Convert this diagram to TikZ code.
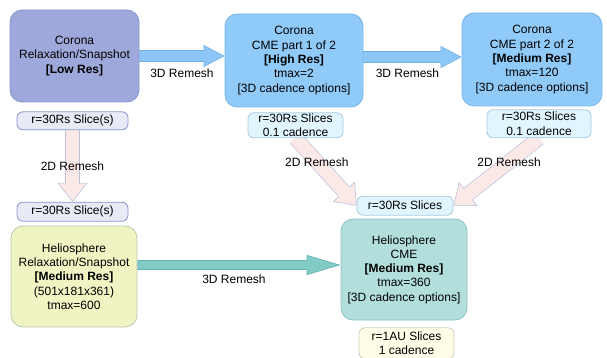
\documentclass[tikz,border=0pt]{standalone}
\usepackage{fontspec}
\setmainfont{Liberation Sans}
\usepackage{xcolor}
\usepackage{tikz}
\usetikzlibrary{arrows.meta, positioning}
\pgfdeclarelayer{bg}
\pgfsetlayers{bg,main}
\definecolor{lowfill}{HTML}{9FA8DA}
\definecolor{lowedge}{HTML}{8A96CE}
\definecolor{corfill}{HTML}{90CAF9}
\definecolor{coredge}{HTML}{78B6EA}
\definecolor{helfill}{HTML}{F0F4C3}
\definecolor{heledge}{HTML}{BCC9B4}
\definecolor{cmefill}{HTML}{B2DFDB}
\definecolor{cmeedge}{HTML}{8EC2CC}
\definecolor{slicelow}{HTML}{E8EAF6}
\definecolor{slicecor}{HTML}{E1F5FE}
\definecolor{sliceedge}{HTML}{A9CBE0}
\definecolor{sliceau}{HTML}{FFFDE7}
\definecolor{auedge}{HTML}{CDD2BC}
\definecolor{pinkfill}{HTML}{FBE9E7}
\definecolor{pinkedge}{HTML}{BCC0DE}
\definecolor{tealfill}{HTML}{80CBC4}
\definecolor{tealedge}{HTML}{69AFBA}
\definecolor{bluefill}{HTML}{8CC7F7}
\definecolor{blueedge}{HTML}{6FB2E8}
\tikzstyle{stage} = [rectangle, rounded corners=12pt, line width=0.8pt, align=center, inner sep=0pt]
\tikzstyle{slice} = [rectangle, rounded corners=6pt, line width=0.8pt, align=center, inner sep=0.5pt]
\tikzstyle{remesh3d} = [draw=blueedge, line width=12pt, -{Triangle[width=22pt, length=21pt, line width=0.6pt, fill=bluefill]}, postaction={draw=bluefill, line width=10.6pt, arrows=-, shorten >=20pt}]
\tikzstyle{remeshhelio} = [draw=tealedge, line width=10pt, -{Triangle[width=20pt, length=34pt, line width=0.6pt, fill=tealfill]}, postaction={draw=tealfill, line width=8.6pt, arrows=-, shorten >=33pt}]
\tikzstyle{remesh2d} = [draw=pinkedge, line width=15pt, -{Triangle[width=30pt, length=19pt, line width=0.6pt, fill=pinkfill]}, postaction={draw=pinkfill, line width=13.6pt, arrows=-, shorten >=18pt}]

\begin{document}
\begin{tikzpicture}[x=1pt, y=-1pt, font=\fontsize{12}{14.3}\selectfont]
		\useasboundingbox (0,0) rectangle (607,358);
		\node (Relax)[stage, fill=lowfill, draw=lowedge, minimum width=129pt, minimum height=92pt] at (74.5,56) {Corona\\Relaxation/Snapshot\\\textbf{[Low Res]}};
		\node (CME One)[stage, fill=corfill, draw=coredge, minimum width=138pt, minimum height=93pt] at (294,60.5) {Corona\\CME part 1 of 2\\\textbf{[High Res]}\\tmax=2\\{[3D cadence options]}};
		\node (CME Two)[stage, fill=corfill, draw=coredge, minimum width=140pt, minimum height=93pt] at (532,59.5) {Corona\\CME part 2 of 2\\\textbf{[Medium Res]}\\tmax=120\\{[3D cadence options]}};
		\node (Helio Relax)[stage, fill=helfill, draw=heledge, minimum width=126pt, minimum height=101pt] at (74,276.5) {Heliosphere\\Relaxation/Snapshot\\\textbf{[Medium Res]}\\(501x181x361)\\tmax=600};
		\node (Helio CME)[stage, fill=cmefill, draw=cmeedge, minimum width=126pt, minimum height=101pt] at (404,269.5) {Heliosphere\\CME\\\textbf{[Medium Res]}\\tmax=360\\{[3D cadence options]}};
		\node (Relax Slice)[slice, fill=slicelow, draw=lowedge, minimum width=111pt, minimum height=18pt, below = 9pt of Relax, xshift=-2pt]{r=30Rs Slice(s)};
		\node (Helio Slice)[slice, fill=slicelow, draw=lowedge, minimum width=111pt, minimum height=19pt, above = 4pt of Helio Relax, xshift=-1.5pt]{r=30Rs Slice(s)};
		\node (CME One Slice)[slice, fill=slicecor, draw=sliceedge, minimum width=95pt, minimum height=25pt, below = 5pt of CME One, xshift=1.5pt]{r=30Rs Slices\\0.1 cadence};
		\node (CME Two Slice)[slice, fill=slicecor, draw=sliceedge, minimum width=104pt, minimum height=28pt, below = 3pt of CME Two, xshift=7pt]{r=30Rs Slices\\0.1 cadence};
		\node (CME In Slice)[slice, fill=slicecor, draw=sliceedge, minimum width=96pt, minimum height=19pt, above = 3pt of Helio CME, xshift=1pt]{r=30Rs Slices};
		\node (CME Out Slice)[slice, fill=sliceau, draw=auedge, minimum width=95pt, minimum height=31pt, below = 7pt of Helio CME, xshift=2.5pt]{r=1AU Slices\\1 cadence};
		\coordinate (CME One Out) at ([yshift=3.5pt]CME One.east);
		\coordinate (Helio Out) at ([yshift=11.5pt]Helio Relax.east);
		\begin{pgfonlayer}{bg}
			\draw [remesh3d] (Relax.east) -- (Relax.east -| CME One.west) node[midway, yshift=-17pt]{3D Remesh};
			\draw [remesh3d] (CME One Out) -- (CME One Out -| CME Two.west) node[midway, xshift=-5pt, yshift=-16pt]{3D Remesh};
			\draw [remeshhelio] (Helio Out) -- (Helio Out -| Helio CME.west) node[midway, xshift=-5pt, yshift=-14pt]{3D Remesh};
			\draw [remesh2d] (Relax Slice) -- (Helio Slice) node[midway]{2D Remesh};
			\draw [remesh2d] (CME One Slice.south) -- (CME In Slice.west) node[pos=0.35]{2D Remesh};
			\draw [remesh2d] (CME Two Slice.south) -- (CME In Slice.east) node[pos=0.35]{2D Remesh};
		\end{pgfonlayer}
	\end{tikzpicture}
\end{document}
